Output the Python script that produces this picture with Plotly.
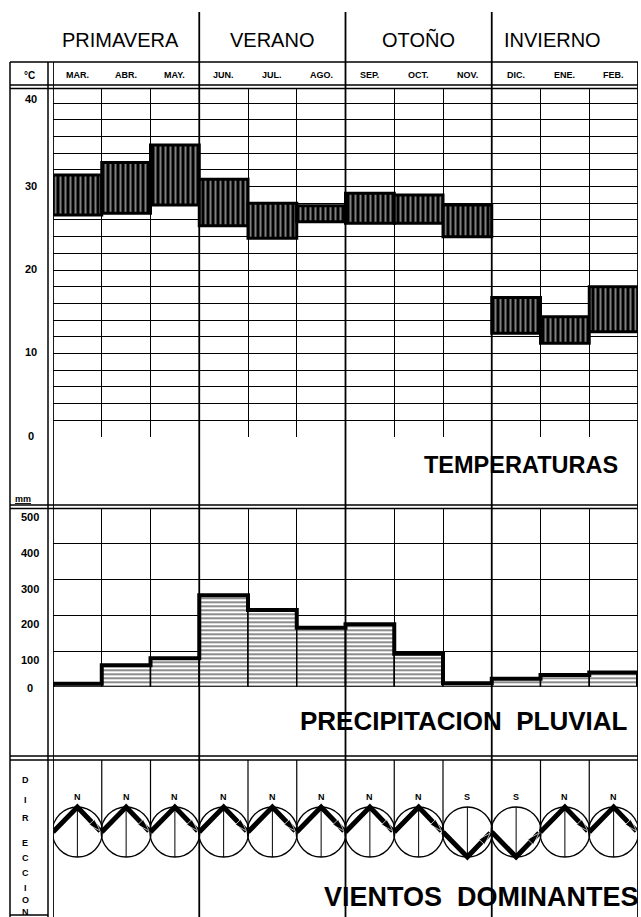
import plotly.graph_objects as go

W, H = 641, 917

months = ["MAR.", "ABR.", "MAY.", "JUN.", "JUL.", "AGO.", "SEP.", "OCT.", "NOV.", "DIC.", "ENE.", "FEB."]
seasons = ["PRIMAVERA", "VERANO", "OTOÑO", "INVIERNO"]
temp_max = [31.4, 32.9, 35.0, 30.9, 28.0, 27.7, 29.2, 29.0, 27.8, 16.7, 14.4, 18.0]
temp_min = [26.6, 26.8, 27.8, 25.3, 23.8, 25.8, 25.6, 25.6, 24.0, 12.4, 11.2, 12.6]
precip = [8, 60, 80, 256, 215, 165, 175, 92, 10, 22, 33, 40]
wind_dir = ["N", "N", "N", "N", "N", "N", "N", "N", "S", "S", "N", "N"]
temp_ticks = [0, 10, 20, 30, 40]
precip_ticks = [0, 100, 200, 300, 400, 500]

FONT = "Liberation Sans"


def pyp(p):
    return 1 - p / H


def pxp(p):
    return p / W


xs = list(range(len(months)))
fig = go.Figure()

# ---------------- temperature boxes ----------------
fig.add_trace(go.Bar(
    x=xs, y=[a - b for a, b in zip(temp_max, temp_min)], base=temp_min, width=1,
    marker=dict(color="black", line=dict(color="black", width=3),
                pattern=dict(shape="|", fgcolor="white", bgcolor="black", size=5, solidity=0.4)),
    xaxis="x", yaxis="y", showlegend=False, hoverinfo="skip"))

# ---------------- precipitation ----------------
fig.add_trace(go.Bar(
    x=xs, y=precip, width=1,
    marker=dict(color="white", line=dict(color="black", width=1.5),
                pattern=dict(shape="-", fgcolor="black", bgcolor="white", size=4, solidity=0.45)),
    xaxis="x2", yaxis="y2", showlegend=False, hoverinfo="skip"))
step_x = [-0.5, -0.5] + xs + [len(xs) - 0.5, len(xs) - 0.5]
step_y = [0, precip[0]] + precip + [precip[-1], 0]
fig.add_trace(go.Scatter(x=step_x, y=step_y, mode="lines", line=dict(color="black", width=4, shape="hvh"),
                         xaxis="x2", yaxis="y2", showlegend=False, hoverinfo="skip"))

# ---------------- winds ----------------
fig.add_trace(go.Scatter(x=xs, y=[0] * len(xs), mode="markers",
                         marker=dict(symbol="circle-open", size=50, color="black", line=dict(width=1.3)),
                         xaxis="x3", yaxis="y3", showlegend=False, hoverinfo="skip"))
vx, vy = [], []
for i in xs:
    vx += [i, i, None]
    vy += [-1, 1, None]
fig.add_trace(go.Scatter(x=vx, y=vy, mode="lines", line=dict(color="black", width=1),
                         xaxis="x3", yaxis="y3", showlegend=False, hoverinfo="skip"))
for i, d in zip(xs, wind_dir):
    s = 1 if d == "N" else -1
    fig.add_trace(go.Scatter(
        x=[i - 0.5, i, i + 0.47], y=[0, s, 0.04 * s], mode="lines+markers",
        line=dict(color="black", width=5),
        marker=dict(symbol="arrow", size=[0, 0, 13], color="black", angleref="previous"),
        xaxis="x3", yaxis="y3", showlegend=False, hoverinfo="skip"))

xdom = [pxp(53), pxp(638)]
xr = [-0.5, len(xs) - 0.5]
grid_vals = [v - 0.5 for v in range(len(xs) + 1)]
tmax_r = (436.7 - 88) / 8.335
common_x = dict(domain=xdom, range=xr, tickvals=grid_vals, showticklabels=False, showgrid=True,
                gridcolor="black", gridwidth=1.2, zeroline=False, showline=False, ticks="", fixedrange=True)

fig.update_layout(
    width=W, height=H, margin=dict(l=0, r=0, t=0, b=0),
    paper_bgcolor="white", plot_bgcolor="rgba(0,0,0,0)", barmode="overlay",
    font=dict(family=FONT, color="black"),
    xaxis=dict(**common_x, anchor="y"),
    xaxis2=dict(**common_x, anchor="y2", matches="x"),
    xaxis3=dict(domain=xdom, range=xr, showticklabels=False, showgrid=False, zeroline=False,
                showline=False, ticks="", anchor="y3", matches="x", fixedrange=True),
    yaxis=dict(domain=[pyp(436.7), pyp(88)], range=[0, tmax_r], tickvals=list(range(0, 41, 2)),
               showticklabels=False, showgrid=True, gridcolor="black", gridwidth=1.2,
               zeroline=False, ticks="", anchor="x", fixedrange=True),
    yaxis2=dict(domain=[pyp(686.7), pyp(508.3)], range=[0, 500], tickvals=precip_ticks,
                showticklabels=False, showgrid=True, gridcolor="black", gridwidth=1.2,
                zeroline=False, ticks="", anchor="x2", fixedrange=True),
    yaxis3=dict(domain=[0, pyp(760)], range=[-3.4, 2.88], showticklabels=False, showgrid=False,
                zeroline=False, ticks="", anchor="x3", fixedrange=True),
)

shapes = []
line = dict(color="black", width=1.5)
# horizontal frame lines
for yp in [62, 85, 88.5, 505, 508.5, 756, 760]:
    shapes.append(dict(type="line", xref="paper", yref="paper", x0=pxp(10), x1=pxp(638),
                       y0=pyp(yp), y1=pyp(yp), line=line))
shapes.append(dict(type="line", xref="paper", yref="paper", x0=pxp(10), x1=pxp(48),
                   y0=pyp(915), y1=pyp(915), line=line))
# left column verticals
for xp in [10, 48]:
    shapes.append(dict(type="line", xref="paper", yref="paper", x0=pxp(xp), x1=pxp(xp),
                       y0=pyp(917), y1=pyp(62), line=line))
# left/right borders of grid
for xv in [-0.5, len(xs) - 0.5]:
    shapes.append(dict(type="line", xref="x", yref="paper", x0=xv, x1=xv,
                       y0=0, y1=pyp(62), line=dict(color="black", width=1.8)))
# season separators (full height)
for k in range(1, len(seasons)):
    xv = 3 * k - 0.5
    shapes.append(dict(type="line", xref="x", yref="paper", x0=xv, x1=xv,
                       y0=0, y1=pyp(12), line=dict(color="black", width=1.8)))
# month separators in wind panel (down to circles)
for xv in grid_vals[1:-1]:
    if (xv + 0.5) % 3 != 0:
        shapes.append(dict(type="line", xref="x3", yref="y3", x0=xv, x1=xv, y0=0, y1=2.88,
                           line=dict(color="black", width=1.2)))
fig.update_layout(shapes=shapes)

ann = []
# seasons
season_shift = [-6, 0, 0, -12]
for k, s in enumerate(seasons):
    ann.append(dict(x=3 * k + 1, y=pyp(40), xref="x", yref="paper", text=s, xshift=season_shift[k],
                    font=dict(size=20, family=FONT)))
# months
for i, m in enumerate(months):
    ann.append(dict(x=i, y=pyp(75), xref="x", yref="paper", text="<b>" + m + "</b>",
                    font=dict(size=9, family=FONT)))
ann.append(dict(x=pxp(29), y=pyp(75), xref="paper", yref="paper", text="<b>°C</b>",
                font=dict(size=10, family=FONT)))
for t in temp_ticks:
    ann.append(dict(x=pxp(31), y=t, xref="paper", yref="y", text="<b>%d</b>" % t,
                    font=dict(size=11, family=FONT), yshift=4 if t == 40 else 1))
ann.append(dict(x=pxp(23), y=pyp(499), xref="paper", yref="paper", text="<b><u>mm</u></b>",
                font=dict(size=9, family=FONT)))
for p in precip_ticks:
    ann.append(dict(x=pxp(30), y=p, xref="paper", yref="y2", text="<b>%d</b>" % p,
                    font=dict(size=11, family=FONT), yshift=-1 if p == 0 else -9))
# panel titles
ann.append(dict(x=pxp(521), y=pyp(465), xref="paper", yref="paper", text="<b>TEMPERATURAS</b>",
                font=dict(size=23.5, family=FONT)))
ann.append(dict(x=pxp(464), y=pyp(721), xref="paper", yref="paper", text="<b>PRECIPITACION  PLUVIAL</b>",
                font=dict(size=26, family=FONT)))
ann.append(dict(x=pxp(481), y=pyp(897), xref="paper", yref="paper", text="<b>VIENTOS  DOMINANTES</b>",
                font=dict(size=27, family=FONT)))
# wind labels
for i, d in zip(xs, wind_dir):
    ann.append(dict(x=i, y=1.4, xref="x3", yref="y3", text="<b>" + d + "</b>",
                    font=dict(size=9, family=FONT)))
for ch, yp in zip("DIRECCION", [780, 800, 818, 843, 858, 873, 888, 900, 912]):
    ann.append(dict(x=pxp(25), y=pyp(yp), xref="paper", yref="paper", text="<b>" + ch + "</b>",
                    font=dict(size=9, family=FONT)))
for a in ann:
    a.update(showarrow=False, xanchor="center", yanchor="middle")
fig.update_layout(annotations=ann)

fig.write_html("out.html", config={"displayModeBar": False},
               post_script="document.body.style.margin='0';")
